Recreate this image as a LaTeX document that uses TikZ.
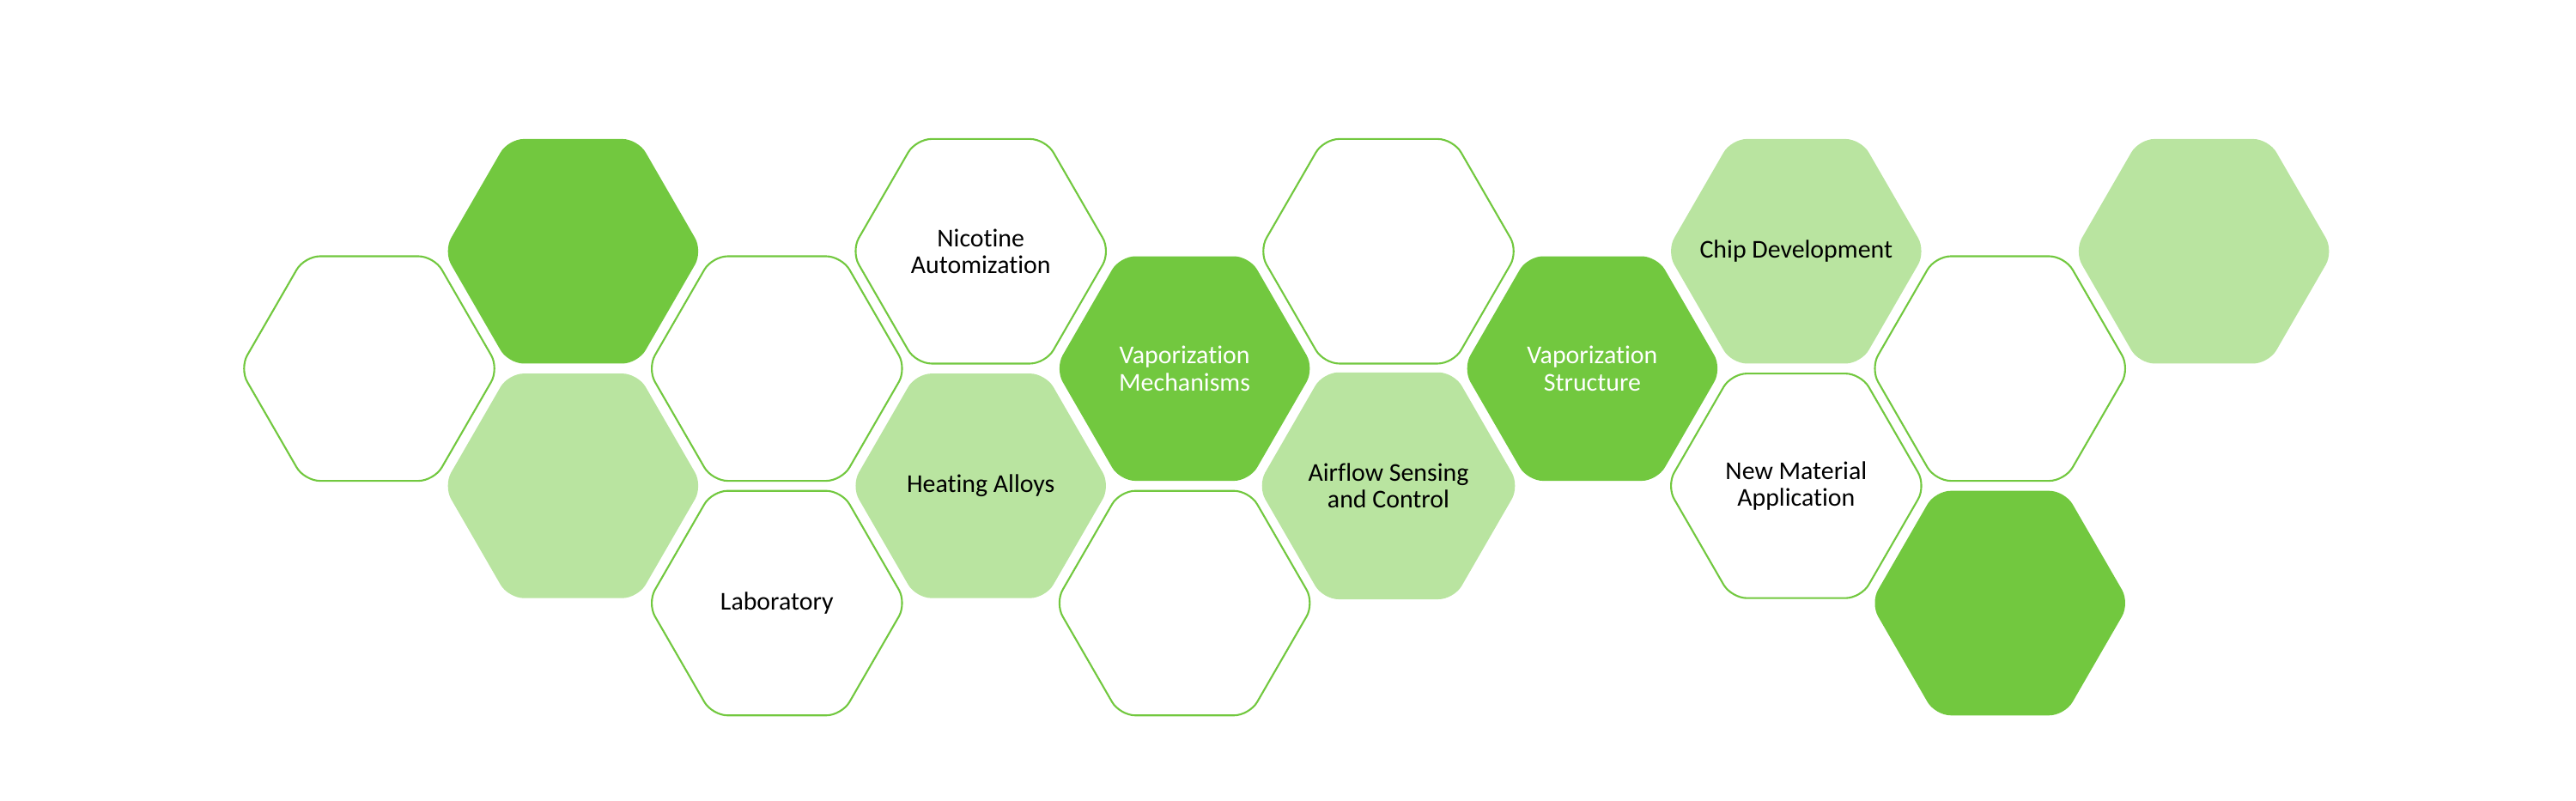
\documentclass[tikz,border=0pt]{standalone}
\usepackage{fontspec}
\setmainfont{Carlito}[Ligatures={NoCommon}]
\usetikzlibrary{shapes.geometric, positioning}
\definecolor{hexgreen}{RGB}{114,200,63}
\definecolor{hexpale}{RGB}{185,228,160}
\tikzstyle{hex} = [regular polygon, regular polygon sides=6, minimum size=3.02cm, inner sep=0pt, outer sep=0pt, rounded corners=0.18cm, align=center, font=\fontsize{8.5}{9}\selectfont]
\tikzstyle{hexwhite} = [hex, draw=hexgreen, line width=0.6pt, fill=white, text=black]
\tikzstyle{hexlight} = [hex, fill=hexpale, text=black]
\tikzstyle{hexdark} = [hex, fill=hexgreen, text=white]

\begin{document}
\begin{tikzpicture}[node distance=1.366cm and 2.374cm, on grid]

\useasboundingbox (0,0) rectangle (30,9.33);

%% HEXAGONS

\node (h1) [hexwhite] at (4.30,5.037) {};
\node (h2) [hexdark, above right=of h1] {};
\node (h3) [hexlight, below right=of h1] {};
\node (h4) [hexwhite, below right=of h2] {};
\node (lab) [hexwhite, below right=of h3] {Laboratory};
\node (nic) [hexwhite, above right=of h4] {Nicotine\\Automization};
\node (heat) [hexlight, below right=of h4] {Heating Alloys};
\node (vmech) [hexdark, below right=of nic] {Vaporization\\Mechanisms};
\node (h5) [hexwhite, below right=of heat] {};
\node (h6) [hexwhite, above right=of vmech] {};
\node (air) [hexlight, below right=of vmech] {Airflow Sensing\\and Control};
\node (vstruct) [hexdark, below right=of h6] {Vaporization\\Structure};
\node (chip) [hexlight, above right=of vstruct] {\makebox[0pt][c]{Chip Development}};
\node (newmat) [hexwhite, below right=of vstruct] {New Material\\Application};
\node (h7) [hexwhite, below right=of chip] {};
\node (h8) [hexdark, below right=of newmat] {};
\node (h9) [hexlight, above right=of h7] {};

\end{tikzpicture}
\end{document}
